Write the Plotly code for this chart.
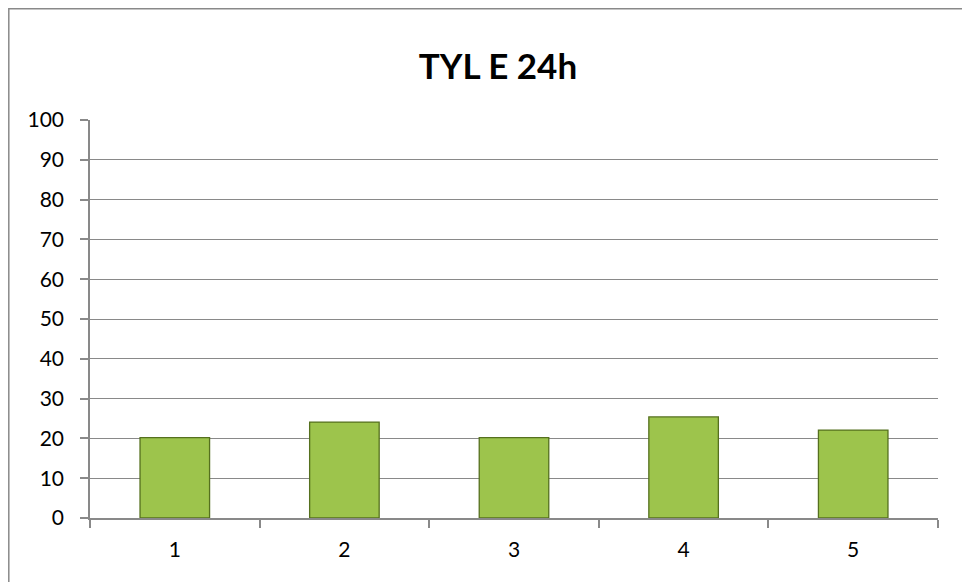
import plotly.graph_objects as go

categories = ["1", "2", "3", "4", "5"]
values = [20.2, 24.1, 20.2, 25.4, 22.1]
y_ticks = [0, 10, 20, 30, 40, 50, 60, 70, 80, 90, 100]
title_text = "TYL E 24h"

W, H = 970, 582
L, R, T, B = 82, 40, 112, 72
PW, PH = W - L - R, H - T - B

fig = go.Figure()
fig.add_trace(go.Bar(
    x=categories, y=values,
    width=0.41,
    marker=dict(color="#9DC44C", line=dict(color="#55701E", width=1.3)),
))

font_family = "Lato"
fig.update_layout(
    width=W, height=H,
    margin=dict(l=L, r=R, t=T, b=B),
    paper_bgcolor="white", plot_bgcolor="white",
    showlegend=False,
    title=dict(text="<b>" + title_text + "</b>", x=490 / W, xanchor="center",
               y=1 - 59 / H, yanchor="middle",
               font=dict(family=font_family, size=35, color="black")),
    font=dict(family=font_family, size=21, color="black"),
    bargap=0.59,
)
fig.update_xaxes(
    type="category", showline=True, linecolor="#898989", linewidth=1.5,
    ticks="outside", tickson="boundaries", ticklen=8, tickcolor="#898989",
    tickwidth=1.5, showgrid=False, tickfont=dict(size=21, color="black"),
    ticklabelstandoff=12,
)
fig.update_yaxes(
    range=[0, 100], tickvals=y_ticks, showline=True, linecolor="#898989",
    linewidth=1.5, ticks="outside", ticklen=8, tickcolor="#898989", tickwidth=1.5,
    showgrid=True, gridcolor="#898989", gridwidth=1.2, zeroline=False,
    tickfont=dict(size=21, color="black"), ticklabelstandoff=12,
)
fig.add_shape(type="rect", xref="paper", yref="paper",
              x0=(0.8 - L) / PW, x1=(958 - L) / PW,
              y0=-(575 - (T + PH)) / PH, y1=1 + (T - 0.8) / PH,
              line=dict(color="#898989", width=1.5), fillcolor="rgba(0,0,0,0)")
fig.write_html("out.html")
